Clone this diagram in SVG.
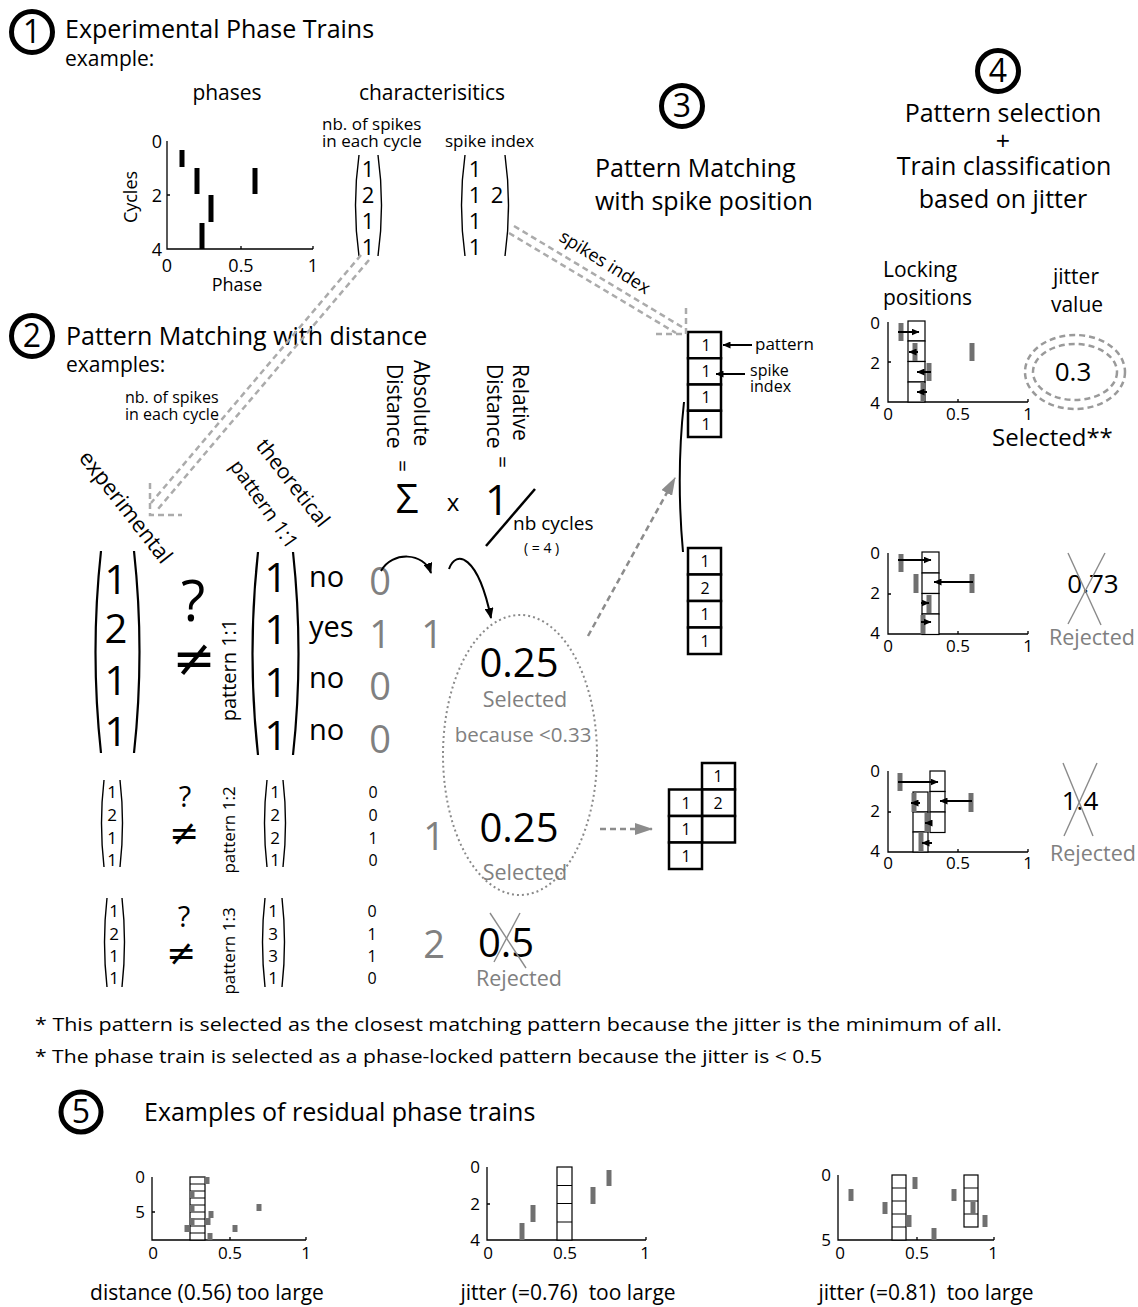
<svg xmlns="http://www.w3.org/2000/svg" width="1138" height="1307" viewBox="0 0 1138 1307">
<defs>
<style>
text { font-family: "Open Sans", "Noto Sans", "DejaVu Sans", sans-serif; fill: #000; }
.mid { text-anchor: middle; }
.end { text-anchor: end; }
.grey { fill: #808080; }
.ring { fill: none; stroke: #000; stroke-width: 5; }
.ringnum { font-size: 32px; text-anchor: middle; }
.paren { fill: none; stroke: #000; stroke-width: 2.2; }
.sparen { fill: none; stroke: #000; stroke-width: 1.4; }
.axis { fill: none; stroke: #000; stroke-width: 1.3; }
.bar { stroke: #000; stroke-width: 5; }
.gbar { stroke: #707070; stroke-width: 5; }
.cell { fill: #fff; stroke: #000; stroke-width: 1.2; }
.cell3 { fill: #fff; stroke: #000; stroke-width: 2.5; }
.dline { fill: none; stroke: #ababab; stroke-width: 2.5; stroke-dasharray: 6 4; }
.gdash { fill: none; stroke: #8c8c8c; stroke-width: 2.5; stroke-dasharray: 6 4; }
.lock { stroke: #000; stroke-width: 2; marker-end: url(#ahs); }
.cross { stroke: #8a8a8a; stroke-width: 1.4; }
.tick { font-size: 17px; }
</style>
<marker id="ahs" markerUnits="userSpaceOnUse" viewBox="0 0 8 7" refX="7.5" refY="3.5" markerWidth="8" markerHeight="7" orient="auto"><path d="M0 0 L8 3.5 L0 7 z" fill="#000"/></marker>
<marker id="ahb" markerUnits="userSpaceOnUse" viewBox="0 0 11 9" refX="10" refY="4.5" markerWidth="11" markerHeight="9" orient="auto"><path d="M0 0 L11 4.5 L0 9 z" fill="#000"/></marker>
<marker id="ahg" markerUnits="userSpaceOnUse" viewBox="0 0 18 12" refX="17" refY="6" markerWidth="18" markerHeight="12" orient="auto"><path d="M0 0 L18 6 L0 12 z" fill="#8c8c8c"/></marker>
</defs>
<rect width="1138" height="1307" fill="#fff"/>

<!-- 1: experimental phase trains -->
<g id="section1">
  <circle cx="32" cy="32" r="20.5" class="ring"/>
  <text x="32" y="43" class="ringnum">1</text>
  <text x="65" y="38" font-size="25">Experimental Phase Trains</text>
  <text x="65" y="66" font-size="21">example:</text>
  <text x="227" y="100" font-size="21" class="mid">phases</text>
  <text x="432" y="100" font-size="21" class="mid">characterisitics</text>
  <g id="phase-plot">
    <path class="axis" d="M167 141 V249 H313 M241 249 v-3 M313 249 v-3 M167 195 h3"/>
    <text x="162" y="148" font-size="18" class="end">0</text>
    <text x="162" y="202" font-size="18" class="end">2</text>
    <text x="162" y="256" font-size="18" class="end">4</text>
    <text x="167" y="272" font-size="18" class="mid">0</text>
    <text x="241" y="272" font-size="18" class="mid">0.5</text>
    <text x="313" y="272" font-size="18" class="mid">1</text>
    <text x="237" y="291" font-size="18" class="mid">Phase</text>
    <text transform="translate(137,197) rotate(-90)" font-size="18" class="mid">Cycles</text>
    <line class="bar" x1="182" y1="150" x2="182" y2="167"/>
    <line class="bar" x1="197" y1="168" x2="197" y2="194"/>
    <line class="bar" x1="255" y1="168" x2="255" y2="194"/>
    <line class="bar" x1="211" y1="195" x2="211" y2="222"/>
    <line class="bar" x1="202" y1="223" x2="202" y2="249"/>
  </g>
  <g id="spike-count">
    <text x="322" y="130" font-size="17">nb. of spikes</text>
    <text x="322" y="147" font-size="17">in each cycle</text>
    <path class="sparen" d="M359 155 Q352 205 359 256 M378 155 Q385 205 378 256"/>
    <text x="368" y="177" font-size="22" class="mid">1</text>
    <text x="368" y="203" font-size="22" class="mid">2</text>
    <text x="368" y="229" font-size="22" class="mid">1</text>
    <text x="368" y="255" font-size="22" class="mid">1</text>
  </g>
  <g id="spike-index">
    <text x="445" y="147" font-size="17">spike index</text>
    <path class="sparen" d="M465 155 Q458 205 465 256 M505 155 Q512 205 505 256"/>
    <text x="475" y="177" font-size="22" class="mid">1</text>
    <text x="475" y="203" font-size="22" class="mid">1</text>
    <text x="497" y="203" font-size="22" class="mid">2</text>
    <text x="475" y="229" font-size="22" class="mid">1</text>
    <text x="475" y="255" font-size="22" class="mid">1</text>
  </g>
</g>

<!-- 2: pattern matching with distance -->
<g id="section2">
  <circle cx="32" cy="336" r="20.5" class="ring"/>
  <text x="32" y="347" class="ringnum">2</text>
  <text x="66" y="345" font-size="25">Pattern Matching with distance</text>
  <text x="66" y="372" font-size="21">examples:</text>
  <text x="125" y="403" font-size="16">nb. of spikes</text>
  <text x="125" y="420" font-size="16">in each cycle</text>
  <text transform="translate(78,458) rotate(52)" font-size="22">experimental</text>
  <text transform="translate(255,446) rotate(52)" font-size="21">theoretical</text>
  <text transform="translate(229,466) rotate(55)" font-size="20">pattern 1:1</text>
  <g id="formula">
    <text transform="translate(414,360) rotate(90)" font-size="21">Absolute</text>
    <text transform="translate(387,364) rotate(90)" font-size="21">Distance</text>
    <text transform="translate(395,460) rotate(90)" font-size="21">=</text>
    <text transform="translate(513,364) rotate(90)" font-size="21">Relative</text>
    <text transform="translate(487,364) rotate(90)" font-size="21">Distance</text>
    <text transform="translate(495,456) rotate(90)" font-size="21">=</text>
    <text x="407" y="513" font-size="40" class="mid">Σ</text>
    <text x="453" y="511" font-size="24" class="mid">x</text>
    <text x="497" y="515" font-size="42" class="mid">1</text>
    <line x1="486" y1="546" x2="535" y2="489" stroke="#000" stroke-width="2.5"/>
    <text x="513" y="530" font-size="19">nb cycles</text>
    <text x="524" y="553" font-size="14">( = 4 )</text>
  </g>
  <g id="match-1-1">
    <path class="paren" d="M101 551 Q90 652 101 753 M134 551 Q145 652 134 753"/>
    <text x="116" y="594" font-size="40" class="mid">1</text>
    <text x="116" y="643" font-size="40" class="mid">2</text>
    <text x="116" y="695" font-size="40" class="mid">1</text>
    <text x="116" y="746" font-size="40" class="mid">1</text>
    <text x="193" y="621" font-size="56" class="mid">?</text>
    <text x="194" y="676" font-size="52" class="mid" style="font-family:'DejaVu Sans',sans-serif">≠</text>
    <text transform="translate(236,670) rotate(-90)" font-size="20" class="mid">pattern 1:1</text>
    <path class="paren" d="M258 552 Q247 654 258 755 M293 552 Q304 654 293 755"/>
    <text x="276" y="592" font-size="40" class="mid">1</text>
    <text x="276" y="644" font-size="40" class="mid">1</text>
    <text x="276" y="697" font-size="40" class="mid">1</text>
    <text x="276" y="750" font-size="40" class="mid">1</text>
    <text x="309" y="587" font-size="29">no</text>
    <text x="309" y="637" font-size="29">yes</text>
    <text x="309" y="688" font-size="29">no</text>
    <text x="309" y="740" font-size="29">no</text>
    <text x="380" y="595" font-size="38" class="mid grey">0</text>
    <text x="380" y="648" font-size="38" class="mid grey">1</text>
    <text x="380" y="700" font-size="38" class="mid grey">0</text>
    <text x="380" y="753" font-size="38" class="mid grey">0</text>
    <text x="432" y="648" font-size="38" class="mid grey">1</text>
  </g>
  <g id="match-1-2">
    <path class="sparen" d="M104 780 Q99 823 104 867 M120 780 Q125 823 120 867"/>
    <text x="112" y="798" font-size="17" class="mid">1</text>
    <text x="112" y="821" font-size="17" class="mid">2</text>
    <text x="112" y="844" font-size="17" class="mid">1</text>
    <text x="112" y="866" font-size="17" class="mid">1</text>
    <text x="185" y="807" font-size="29" class="mid">?</text>
    <text x="184" y="845" font-size="36" class="mid" style="font-family:'DejaVu Sans',sans-serif">≠</text>
    <text transform="translate(235,830) rotate(-90)" font-size="17" class="mid">pattern 1:2</text>
    <path class="sparen" d="M267 780 Q262 823 267 867 M283 780 Q288 823 283 867"/>
    <text x="275" y="798" font-size="17" class="mid">1</text>
    <text x="275" y="821" font-size="17" class="mid">2</text>
    <text x="275" y="844" font-size="17" class="mid">2</text>
    <text x="275" y="866" font-size="17" class="mid">1</text>
    <text x="373" y="798" font-size="16" class="mid">0</text>
    <text x="373" y="821" font-size="16" class="mid">0</text>
    <text x="373" y="844" font-size="16" class="mid">1</text>
    <text x="373" y="866" font-size="16" class="mid">0</text>
    <text x="434" y="850" font-size="38" class="mid grey">1</text>
  </g>
  <g id="match-1-3">
    <path class="sparen" d="M107 898 Q102 942 107 987 M122 898 Q127 942 122 987"/>
    <text x="114" y="917" font-size="17" class="mid">1</text>
    <text x="114" y="940" font-size="17" class="mid">2</text>
    <text x="114" y="962" font-size="17" class="mid">1</text>
    <text x="114" y="984" font-size="17" class="mid">1</text>
    <text x="184" y="927" font-size="29" class="mid">?</text>
    <text x="181" y="965" font-size="36" class="mid" style="font-family:'DejaVu Sans',sans-serif">≠</text>
    <text transform="translate(235,951) rotate(-90)" font-size="17" class="mid">pattern 1:3</text>
    <path class="sparen" d="M265 898 Q260 942 265 987 M282 898 Q287 942 282 987"/>
    <text x="273" y="917" font-size="17" class="mid">1</text>
    <text x="273" y="940" font-size="17" class="mid">3</text>
    <text x="273" y="962" font-size="17" class="mid">3</text>
    <text x="273" y="984" font-size="17" class="mid">1</text>
    <text x="372" y="917" font-size="16" class="mid">0</text>
    <text x="372" y="940" font-size="16" class="mid">1</text>
    <text x="372" y="962" font-size="16" class="mid">1</text>
    <text x="372" y="984" font-size="16" class="mid">0</text>
    <text x="434" y="958" font-size="38" class="mid grey">2</text>
  </g>
  <g id="distance-results">
    <ellipse cx="520" cy="755" rx="77" ry="140" fill="none" stroke="#8a8a8a" stroke-width="2" stroke-dasharray="2 3"/>
    <text x="519" y="677" font-size="40" class="mid">0.25</text>
    <text x="525" y="707" font-size="21.5" class="mid grey">Selected</text>
    <text x="523" y="742" font-size="20.5" class="mid grey">because &lt;0.33</text>
    <text x="519" y="842" font-size="40" class="mid">0.25</text>
    <text x="525" y="880" font-size="21.5" class="mid grey">Selected</text>
    <text x="506" y="957" font-size="40" class="mid">0.5</text>
    <line class="cross" x1="490" y1="913" x2="526" y2="968"/>
    <line class="cross" x1="520" y1="913" x2="494" y2="962"/>
    <text x="519" y="986" font-size="21.5" class="mid grey">Rejected</text>
  </g>
</g>

<!-- 3: pattern matching with spike position -->
<g id="section3">
  <circle cx="682" cy="106" r="20.5" class="ring"/>
  <text x="682" y="117" class="ringnum">3</text>
  <text x="595" y="177" font-size="25">Pattern Matching</text>
  <text x="595" y="210" font-size="25">with spike position</text>
  <g id="pattern-1-1">
    <rect class="cell3" x="688" y="332" width="33" height="26.25"/>
    <rect class="cell3" x="688" y="358.25" width="33" height="26.25"/>
    <rect class="cell3" x="688" y="384.5" width="33" height="26.25"/>
    <rect class="cell3" x="688" y="410.75" width="33" height="26.25"/>
    <text x="706" y="351" font-size="16" class="mid">1</text>
    <text x="706" y="377" font-size="16" class="mid">1</text>
    <text x="706" y="403" font-size="16" class="mid">1</text>
    <text x="706" y="430" font-size="16" class="mid">1</text>
    <line x1="752" y1="345" x2="723" y2="345" stroke="#000" stroke-width="2" marker-end="url(#ahs)"/>
    <text x="755" y="350" font-size="17">pattern</text>
    <line x1="745" y1="374" x2="716" y2="374" stroke="#000" stroke-width="2" marker-end="url(#ahs)"/>
    <text x="750" y="376" font-size="16">spike</text>
    <text x="750" y="392" font-size="16">index</text>
  </g>
  <g id="pattern-1-1-index">
    <rect class="cell3" x="688" y="548" width="33" height="26.5"/>
    <rect class="cell3" x="688" y="574.5" width="33" height="26.5"/>
    <rect class="cell3" x="688" y="601" width="33" height="26.5"/>
    <rect class="cell3" x="688" y="627.5" width="33" height="26.5"/>
    <text x="705" y="567" font-size="16" class="mid">1</text>
    <text x="705" y="594" font-size="16" class="mid">2</text>
    <text x="705" y="620" font-size="16" class="mid">1</text>
    <text x="705" y="647" font-size="16" class="mid">1</text>
  </g>
  <g id="pattern-1-2">
    <rect class="cell3" x="702" y="763" width="33" height="26.5"/>
    <rect class="cell3" x="702" y="789.5" width="33" height="26.5"/>
    <rect class="cell3" x="702" y="816" width="33" height="26.5"/>
    <rect class="cell3" x="669" y="789.5" width="33" height="26.5"/>
    <rect class="cell3" x="669" y="816" width="33" height="26.5"/>
    <rect class="cell3" x="669" y="842.5" width="33" height="26.5"/>
    <text x="718" y="782" font-size="16" class="mid">1</text>
    <text x="718" y="809" font-size="16" class="mid">2</text>
    <text x="686" y="809" font-size="16" class="mid">1</text>
    <text x="686" y="835" font-size="16" class="mid">1</text>
    <text x="686" y="862" font-size="16" class="mid">1</text>
  </g>
</g>

<!-- 4: pattern selection and train classification -->
<g id="section4">
  <circle cx="998" cy="71" r="20.5" class="ring"/>
  <text x="998" y="82" class="ringnum">4</text>
  <text x="1003" y="122" font-size="25" class="mid">Pattern selection</text>
  <text x="1003" y="150" font-size="25" class="mid">+</text>
  <text x="1004" y="175" font-size="25" class="mid">Train classification</text>
  <text x="1003" y="208" font-size="25" class="mid">based on jitter</text>
  <text x="883" y="277" font-size="21">Locking</text>
  <text x="883" y="305" font-size="21">positions</text>
  <text x="1076" y="284" font-size="21" class="mid">jitter</text>
  <text x="1077" y="312" font-size="21" class="mid">value</text>
  <g id="locking-1-1">
    <path class="axis" d="M888 322 V402 H1028 M958 402 v-3 M1028 402 v-3 M888 362 h3"/>
    <text x="880" y="329" class="tick end">0</text>
    <text x="880" y="369" class="tick end">2</text>
    <text x="880" y="409" class="tick end">4</text>
    <text x="888" y="420" class="tick mid">0</text>
    <text x="958" y="420" class="tick mid">0.5</text>
    <text x="1028" y="420" class="tick mid">1</text>
    <rect class="cell" x="908" y="321" width="17" height="20"/>
    <rect class="cell" x="908" y="341" width="17" height="20.5"/>
    <rect class="cell" x="908" y="361.5" width="17" height="20.5"/>
    <rect class="cell" x="908" y="382" width="17" height="20"/>
    <line class="gbar" x1="901" y1="323" x2="901" y2="341"/>
    <line class="gbar" x1="915" y1="343" x2="915" y2="361"/>
    <line class="gbar" x1="972" y1="343" x2="972" y2="361"/>
    <line class="gbar" x1="929" y1="363" x2="929" y2="381"/>
    <line class="gbar" x1="923" y1="383" x2="923" y2="401"/>
    <line class="lock" x1="898" y1="332" x2="919" y2="332"/>
    <line class="lock" x1="918" y1="352" x2="909" y2="352"/>
    <line class="lock" x1="931" y1="372" x2="917" y2="372"/>
    <line class="lock" x1="927" y1="392" x2="917" y2="392"/>
    <ellipse cx="1075" cy="372" rx="50" ry="37" fill="none" stroke="#9a9a9a" stroke-width="2.5" stroke-dasharray="6 4"/>
    <ellipse cx="1075" cy="372" rx="42" ry="28" fill="none" stroke="#9a9a9a" stroke-width="2.5" stroke-dasharray="6 4"/>
    <text x="1073" y="381" font-size="26" class="mid">0.3</text>
    <text x="992" y="446" font-size="24">Selected**</text>
  </g>
  <g id="locking-1-1b">
    <path class="axis" d="M888 553 V634 H1028 M958 634 v-3 M1028 634 v-3 M888 594 h3"/>
    <text x="880" y="559" class="tick end">0</text>
    <text x="880" y="599" class="tick end">2</text>
    <text x="880" y="639" class="tick end">4</text>
    <text x="888" y="652" class="tick mid">0</text>
    <text x="958" y="652" class="tick mid">0.5</text>
    <text x="1028" y="652" class="tick mid">1</text>
    <rect class="cell" x="922" y="552" width="17" height="21"/>
    <rect class="cell" x="922" y="573" width="17" height="20.5"/>
    <rect class="cell" x="922" y="593.5" width="17" height="20.5"/>
    <rect class="cell" x="922" y="614" width="17" height="20.5"/>
    <line class="gbar" x1="901" y1="554" x2="901" y2="572"/>
    <line class="gbar" x1="916" y1="574" x2="916" y2="593"/>
    <line class="gbar" x1="972" y1="574" x2="972" y2="593"/>
    <line class="gbar" x1="929" y1="595" x2="929" y2="613"/>
    <line class="gbar" x1="923" y1="615" x2="923" y2="634"/>
    <line class="lock" x1="898" y1="560" x2="931" y2="560"/>
    <line class="lock" x1="973" y1="582" x2="934" y2="582"/>
    <line class="lock" x1="921" y1="603" x2="929" y2="603"/>
    <line class="lock" x1="921" y1="622" x2="931" y2="622"/>
    <text x="1093" y="593" font-size="26" class="mid">0.73</text>
    <line class="cross" x1="1068" y1="553" x2="1101" y2="625"/>
    <line class="cross" x1="1105" y1="553" x2="1068" y2="624"/>
    <text x="1092" y="645" font-size="21.5" class="mid grey">Rejected</text>
  </g>
  <g id="locking-1-2">
    <path class="axis" d="M888 771 V852 H1028 M958 852 v-3 M1028 852 v-3 M888 812 h3"/>
    <text x="880" y="777" class="tick end">0</text>
    <text x="880" y="817" class="tick end">2</text>
    <text x="880" y="857" class="tick end">4</text>
    <text x="888" y="869" class="tick mid">0</text>
    <text x="958" y="869" class="tick mid">0.5</text>
    <text x="1028" y="869" class="tick mid">1</text>
    <rect class="cell" x="930" y="771" width="15" height="20.5"/>
    <rect class="cell" x="930" y="791.5" width="15" height="20.5"/>
    <rect class="cell" x="930" y="812" width="15" height="20.5"/>
    <rect class="cell" x="913" y="792" width="15" height="20"/>
    <rect class="cell" x="913" y="812" width="15" height="20"/>
    <rect class="cell" x="913" y="832" width="15" height="20"/>
    <line class="gbar" x1="900" y1="773" x2="900" y2="791"/>
    <line class="gbar" x1="914" y1="793" x2="914" y2="812"/>
    <line class="gbar" x1="971" y1="793" x2="971" y2="812"/>
    <line class="gbar" x1="927" y1="813" x2="927" y2="832"/>
    <line class="gbar" x1="921" y1="833" x2="921" y2="852"/>
    <line class="lock" x1="898" y1="782" x2="938" y2="782"/>
    <line class="lock" x1="972" y1="801" x2="940" y2="801"/>
    <line class="lock" x1="920" y1="803" x2="911" y2="803"/>
    <line class="lock" x1="932" y1="823" x2="925" y2="823"/>
    <line class="lock" x1="932" y1="843" x2="922" y2="843"/>
    <text x="1080" y="810" font-size="26" class="mid">1.4</text>
    <line class="cross" x1="1063" y1="763" x2="1093" y2="836"/>
    <line class="cross" x1="1097" y1="763" x2="1064" y2="836"/>
    <text x="1093" y="861" font-size="21.5" class="mid grey">Rejected</text>
  </g>
</g>

<!-- footnotes -->
<g id="footnotes">
  <text x="35" y="1031" font-size="18" textLength="967" lengthAdjust="spacingAndGlyphs">* This pattern is selected as the closest matching pattern because the jitter is the minimum of all.</text>
  <text x="35" y="1063" font-size="18" textLength="787" lengthAdjust="spacingAndGlyphs">* The phase train is selected as a phase-locked pattern because the jitter is &lt; 0.5</text>
</g>

<!-- 5: residual phase trains -->
<g id="section5">
  <circle cx="81" cy="1112" r="20" class="ring"/>
  <text x="81" y="1123" class="ringnum">5</text>
  <text x="144" y="1121" font-size="25">Examples of residual phase trains</text>
  <g id="residual-distance">
    <path class="axis" d="M152 1177 V1240 H306 M230 1240 v-3 M306 1240 v-3 M152 1212 h3"/>
    <text x="145" y="1183" class="tick end">0</text>
    <text x="145" y="1218" class="tick end">5</text>
    <text x="153" y="1259" class="tick mid">0</text>
    <text x="230" y="1259" class="tick mid">0.5</text>
    <text x="306" y="1259" class="tick mid">1</text>
    <rect class="cell" x="190" y="1177" width="15" height="63"/>
    <path fill="none" stroke="#000" stroke-width="1.2" d="M190 1184 h15 M190 1191 h15 M190 1198 h15 M190 1205 h15 M190 1212 h15 M190 1219 h15 M190 1226 h15 M190 1233 h15"/>
    <line class="gbar" x1="207" y1="1177" x2="207" y2="1184"/>
    <line class="gbar" x1="192" y1="1191" x2="192" y2="1198"/>
    <line class="gbar" x1="192" y1="1205" x2="192" y2="1212"/>
    <line class="gbar" x1="211" y1="1211" x2="211" y2="1218"/>
    <line class="gbar" x1="208" y1="1218" x2="208" y2="1225"/>
    <line class="gbar" x1="192" y1="1218" x2="192" y2="1225"/>
    <line class="gbar" x1="187" y1="1225" x2="187" y2="1232"/>
    <line class="gbar" x1="210" y1="1233" x2="210" y2="1240"/>
    <line class="gbar" x1="259" y1="1204" x2="259" y2="1211"/>
    <line class="gbar" x1="235" y1="1225" x2="235" y2="1232"/>
    <text x="207" y="1300" font-size="21" class="mid">distance (0.56) too large</text>
  </g>
  <g id="residual-jitter-1">
    <path class="axis" d="M487 1167 V1240 H646 M565 1240 v-3 M646 1240 v-3 M487 1204 h3"/>
    <text x="480" y="1173" class="tick end">0</text>
    <text x="480" y="1210" class="tick end">2</text>
    <text x="480" y="1246" class="tick end">4</text>
    <text x="488" y="1259" class="tick mid">0</text>
    <text x="565" y="1259" class="tick mid">0.5</text>
    <text x="645" y="1259" class="tick mid">1</text>
    <rect class="cell" x="557" y="1167" width="15" height="73"/>
    <path fill="none" stroke="#000" stroke-width="1.2" d="M557 1185.5 h15 M557 1203.5 h15 M557 1222 h15"/>
    <line class="gbar" x1="609" y1="1170" x2="609" y2="1186"/>
    <line class="gbar" x1="593" y1="1187" x2="593" y2="1204"/>
    <line class="gbar" x1="533" y1="1205" x2="533" y2="1222"/>
    <line class="gbar" x1="522" y1="1223" x2="522" y2="1240"/>
    <text x="568" y="1300" font-size="21" class="mid">jitter (=0.76)&#160; too large</text>
  </g>
  <g id="residual-jitter-2">
    <path class="axis" d="M838 1175 V1240 H994 M917 1240 v-3 M994 1240 v-3"/>
    <text x="831" y="1181" class="tick end">0</text>
    <text x="831" y="1246" class="tick end">5</text>
    <text x="840" y="1259" class="tick mid">0</text>
    <text x="917" y="1259" class="tick mid">0.5</text>
    <text x="993" y="1259" class="tick mid">1</text>
    <rect class="cell" x="892" y="1175" width="14" height="65"/>
    <path fill="none" stroke="#000" stroke-width="1.2" d="M892 1188 h14 M892 1201 h14 M892 1214 h14 M892 1227 h14"/>
    <rect class="cell" x="964" y="1175" width="14" height="52"/>
    <path fill="none" stroke="#000" stroke-width="1.2" d="M964 1188 h14 M964 1201 h14 M964 1214 h14"/>
    <line class="gbar" x1="851" y1="1189" x2="851" y2="1201"/>
    <line class="gbar" x1="885" y1="1202" x2="885" y2="1214"/>
    <line class="gbar" x1="915" y1="1177" x2="915" y2="1189"/>
    <line class="gbar" x1="909" y1="1215" x2="909" y2="1227"/>
    <line class="gbar" x1="934" y1="1228" x2="934" y2="1240"/>
    <line class="gbar" x1="954" y1="1189" x2="954" y2="1201"/>
    <line class="gbar" x1="973" y1="1202" x2="973" y2="1214"/>
    <line class="gbar" x1="985" y1="1215" x2="985" y2="1227"/>
    <text x="926" y="1300" font-size="21" class="mid">jitter (=0.81)&#160; too large</text>
  </g>
</g>

<!-- connectors -->
<g id="connectors">
  <!-- spike counts to the distance matching -->
  <path class="dline" d="M369 260 L158 509 M361 255 L151 503"/>
  <path class="dline" d="M150 483 V515 H182"/>
  <!-- spike index to the position matching -->
  <path class="dline" d="M514 226 L682 327 M509 233 L676 333"/>
  <path class="dline" d="M686 308 V334 H655"/>
  <text transform="translate(558,240) rotate(32)" font-size="18">spikes index</text>
  <!-- sum and division steps -->
  <path d="M381 571 C392 551 424 552 431 573" fill="none" stroke="#000" stroke-width="2" marker-end="url(#ahb)"/>
  <path d="M449 569 C456 549 478 555 491 618" fill="none" stroke="#000" stroke-width="2" marker-end="url(#ahb)"/>
  <!-- selected patterns to their spike positions -->
  <path class="gdash" d="M588 636 L675 478" marker-end="url(#ahg)"/>
  <path class="gdash" d="M600 829 L652 829" marker-end="url(#ahg)"/>
  <path d="M684 402 Q676 475 683 552" fill="none" stroke="#000" stroke-width="2"/>
</g>
</svg>
